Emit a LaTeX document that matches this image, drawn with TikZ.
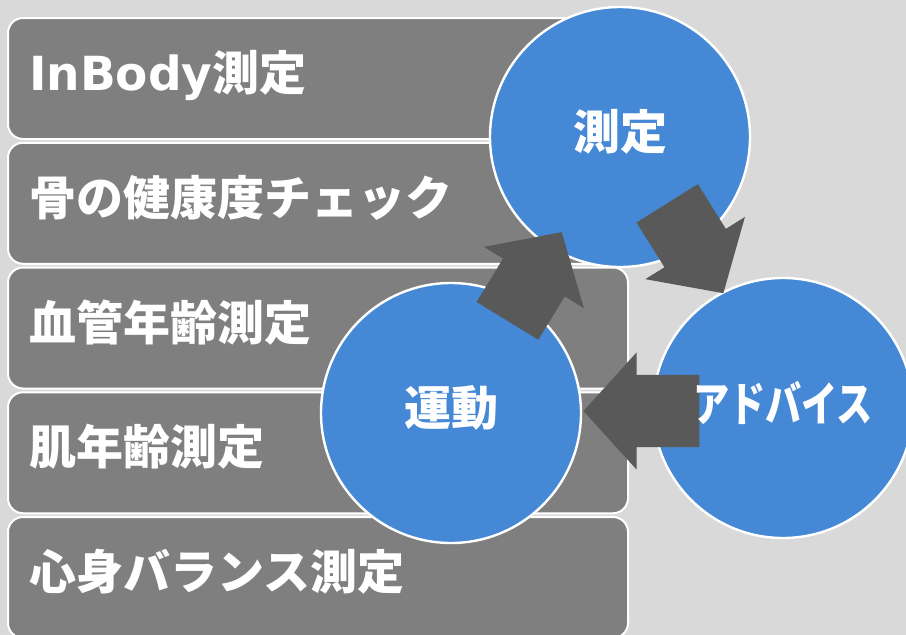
\documentclass[tikz,border=0pt]{standalone}
\usepackage{fontspec,graphicx}
\newfontfamily\jpfont{Noto Sans CJK JP}
\newfontfamily\latinfont{DejaVu Sans}
\usetikzlibrary{calc,shapes.arrows}

\definecolor{bggray}{HTML}{D9D9D9}
\definecolor{boxgray}{HTML}{7F7F7F}
\definecolor{stepblue}{HTML}{4589D6}
\definecolor{arrowgray}{HTML}{595959}

\tikzset{
	itembox/.style={draw=white, line width=2pt, fill=boxgray, rounded corners=15pt,
		minimum width=620pt, minimum height=121pt, inner sep=0pt},
	itemtext/.style={anchor=base west, text=white, inner sep=0pt,
		font={\jpfont\bfseries\fontsize{47}{56}\selectfont}},
	stepcircle/.style={circle, draw=white, line width=2.4pt, fill=stepblue,
		minimum size=260pt, inner sep=0pt},
	steptext/.style={text=white, inner sep=0pt, yshift=5pt,
		font={\jpfont\bfseries\fontsize{47}{56}\selectfont}},
	cyclearrow/.style={single arrow, fill=arrowgray, inner xsep=0pt, inner ysep=36pt,
		anchor=tip, minimum height=106pt, single arrow head extend=22.5pt,
		single arrow tip angle=95.6}
}

\begin{document}
\begin{tikzpicture}[x=1pt,y=-1pt]
		\fill[bggray] (0,0) rectangle (906,635);
		\useasboundingbox (0,0) rectangle (906,635);
		% the five check items
		\node[itembox] (box1) at (318,78.5) {};
		\node[itembox] (box2) at (318,203.25) {};
		\node[itembox] (box3) at (318,328) {};
		\node[itembox] (box4) at (318,452.75) {};
		\node[itembox] (box5) at (318,577.5) {};
		\node[itemtext] (item1) at ([shift={(22,12)}]box1.west) {{\latinfont InBody}測定};
		\node[itemtext] (item2) at ([shift={(22,12)}]box2.west) {骨の健康度チェック};
		\node[itemtext] (item3) at ([shift={(22,12)}]box3.west) {血管年齢測定};
		\node[itemtext] (item4) at ([shift={(22,12)}]box4.west) {肌年齢測定};
		\node[itemtext] (item5) at ([shift={(22,12)}]box5.west) {心身バランス測定};
		% cycle
		\node[stepcircle] (sokutei) at (620,137) {};
		\node[stepcircle] (advice) at (783,408) {};
		\node[stepcircle] (undou) at (451,413) {};
		\node[cyclearrow, rotate=58.5, minimum height=104pt] (up) at ($(undou)!0.656!(sokutei)$) {};
		\node[cyclearrow, rotate=-58] (down) at ($(sokutei)!0.592!(advice)+(7,-4)$) {};
		\node[cyclearrow, rotate=180, minimum height=116pt] (back) at ($(undou.east)+(1,-2)$) {};
		\node[steptext] (sokutei-t) at (sokutei) {測定};
		\node[steptext] (advice-t) at (advice) {\scalebox{0.77}[1]{アドバイス}};
		\node[steptext] (undou-t) at (undou) {運動};
	\end{tikzpicture}
\end{document}
